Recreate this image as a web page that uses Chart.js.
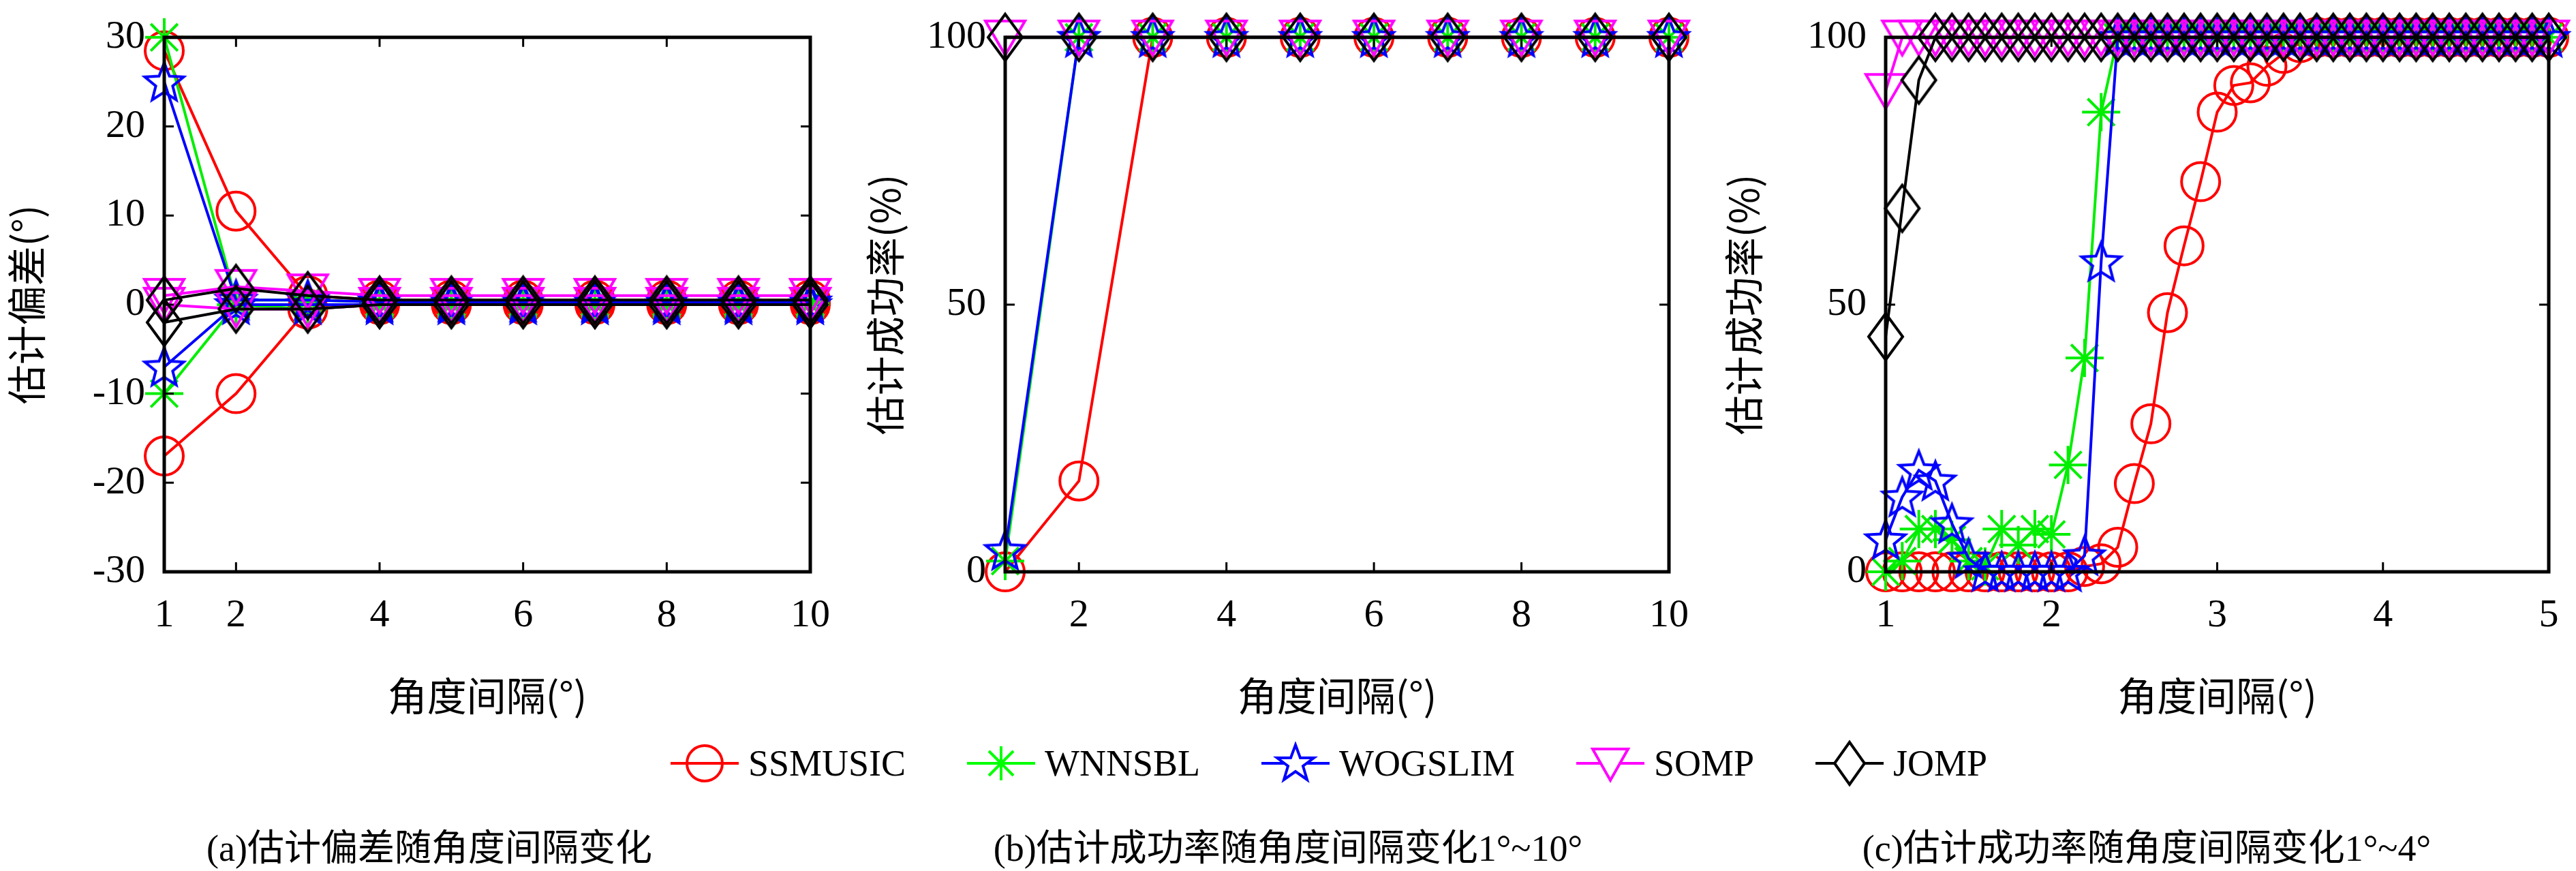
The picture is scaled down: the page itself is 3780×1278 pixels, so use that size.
<!DOCTYPE html>
<html>
<head>
<meta charset="utf-8">
<script src="https://cdn.jsdelivr.net/npm/chart.js@4.4.0/dist/chart.umd.min.js"></script>
<style>
  body { margin: 0; background: #fff; width: 3780px; height: 1278px; position: relative; overflow: hidden; }
  .box { position: absolute; top: 0; height: 1060px; }
  .legend { position: absolute; top: 1085px; left: 0; width: 3780px; display: flex; justify-content: center; gap: 90px;
            font-family: 'Liberation Serif', 'DejaVu Serif', serif; font-size: 54px; align-items: center; padding-left: 60px; }
  .legend span { display: flex; align-items: center; gap: 14px; }
  .cap { position: absolute; top: 1200px; font-family: 'Liberation Serif', 'Noto Sans CJK SC', serif; font-size: 54px; text-align: center; width: 1260px; }
</style>
</head>
<body>
<div class="box" style="left:0;width:1240px"><canvas id="chartA"></canvas></div>
<div class="box" style="left:1260px;width:1240px"><canvas id="chartB"></canvas></div>
<div class="box" style="left:2520px;width:1260px"><canvas id="chartC"></canvas></div>

<div class="legend">
  <span><svg width="100" height="70"><line x1="0" y1="35" x2="100" y2="35" stroke="#f00" stroke-width="4"/><circle cx="50" cy="35" r="26" fill="none" stroke="#f00" stroke-width="4"/></svg>SSMUSIC</span>
  <span><svg width="100" height="70"><line x1="0" y1="35" x2="100" y2="35" stroke="#0f0" stroke-width="4"/><g stroke="#0f0" stroke-width="4"><line x1="50" y1="10" x2="50" y2="60"/><line x1="25" y1="35" x2="75" y2="35"/><line x1="32" y1="17" x2="68" y2="53"/><line x1="68" y1="17" x2="32" y2="53"/></g></svg>WNNSBL</span>
  <span><svg width="100" height="70"><line x1="0" y1="35" x2="100" y2="35" stroke="#00f" stroke-width="4"/><polygon points="50,8 57,27 77,27 61,39 67,59 50,47 33,59 39,39 23,27 43,27" fill="#fff" stroke="#00f" stroke-width="4"/></svg>WOGSLIM</span>
  <span><svg width="100" height="70"><line x1="0" y1="35" x2="100" y2="35" stroke="#f0f" stroke-width="4"/><polygon points="24,14 76,14 50,60" fill="#fff" stroke="#f0f" stroke-width="4"/></svg>SOMP</span>
  <span><svg width="100" height="70"><line x1="0" y1="35" x2="100" y2="35" stroke="#000" stroke-width="4"/><polygon points="50,4 72,35 50,66 28,35" fill="#fff" stroke="#000" stroke-width="4"/></svg>JOMP</span>
</div>

<div class="cap" style="left:0">(a)估计偏差随角度间隔变化</div>
<div class="cap" style="left:1260px">(b)估计成功率随角度间隔变化1°~10°</div>
<div class="cap" style="left:2520px">(c)估计成功率随角度间隔变化1°~4°</div>

<script>
const names = ['SSMUSIC', 'WNNSBL', 'WOGSLIM', 'SOMP', 'JOMP'];
const lineColors = ['#ff0000', '#00ee00', '#0000ff', '#ff00ff', '#000000'];

// (a) bias vs angle spacing, upper and lower branch per method
const xA = [1, 2, 3, 4, 5, 6, 7, 8, 9, 10];
const xTicksA = [1, 2, 4, 6, 8, 10];
const ssmusicUp = [28.5, 10.5, 1, 0.5, 0.5, 0.5, 0.5, 0.5, 0.5, 0.5];
const ssmusicLow = [-17, -10, -0.5, 0, 0, 0, 0, 0, 0, 0];
const wnnsblUp = [30, 0.5, 0.5, 0.3, 0.3, 0.3, 0.3, 0.3, 0.3, 0.3];
const wnnsblLow = [-10, 0, -0.5, 0, 0, 0, 0, 0, 0, 0];
const wogslimUp = [25, 0.5, 0.5, 0.3, 0.3, 0.3, 0.3, 0.3, 0.3, 0.3];
const wogslimLow = [-7, 0, 0, 0, 0, 0, 0, 0, 0, 0];
const sompUp = [1, 2, 1.5, 1, 1, 1, 1, 1, 1, 1];
const sompLow = [0, -0.5, -0.5, 0, 0, 0, 0, 0, 0, 0];
const jompUp = [0.5, 1.8, 1, 0.5, 0.5, 0.5, 0.5, 0.5, 0.5, 0.5];
const jompLow = [-2, -0.5, -0.5, 0, 0, 0, 0, 0, 0, 0];

// (b) success rate 1..10
const xB = [1, 2, 3, 4, 5, 6, 7, 8, 9, 10];
const xTicksB = [2, 4, 6, 8, 10];
const ssmusicB = [0, 17, 100, 100, 100, 100, 100, 100, 100, 100];
const wnnsblB = [2, 100, 100, 100, 100, 100, 100, 100, 100, 100];
const wogslimB = [4, 100, 100, 100, 100, 100, 100, 100, 100, 100];
const sompB = [100, 100, 100, 100, 100, 100, 100, 100, 100, 100];
const jompB = [100, 100, 100, 100, 100, 100, 100, 100, 100, 100];

// (c) success rate 1..5, step 0.1
const xC = [1.0, 1.1, 1.2, 1.3, 1.4, 1.5, 1.6, 1.7, 1.8, 1.9, 2.0, 2.1, 2.2, 2.3, 2.4, 2.5, 2.6, 2.7, 2.8, 2.9, 3.0,
            3.1, 3.2, 3.3, 3.4, 3.5, 3.6, 3.7, 3.8, 3.9, 4.0, 4.1, 4.2, 4.3, 4.4, 4.5, 4.6, 4.7, 4.8, 4.9, 5.0];
const ssmusicC = [0, 0, 0, 0, 0, 0, 0, 0, 0, 0, 0, 0, 1, 1.5, 4.6, 16.5, 27.7, 48.5, 61, 73, 86,
                  91, 91.5, 94.6, 97, 99, 100, 100, 100, 100, 100, 100, 100, 100, 100, 100, 100, 100, 100, 100, 100];
const wnnsblC = [0, 2, 8, 8, 6, 2, 1, 8, 5, 8, 7, 20, 40, 86, 100, 100, 100, 100, 100, 100, 100,
                 100, 100, 100, 100, 100, 100, 100, 100, 100, 100, 100, 100, 100, 100, 100, 100, 100, 100, 100, 100];
const wogslimC = [6, 14, 19, 17, 9, 2.5, 0, 0, 0, 0, 0, 0, 3, 58, 100, 100, 100, 100, 100, 100, 100,
                  100, 100, 100, 100, 100, 100, 100, 100, 100, 100, 100, 100, 100, 100, 100, 100, 100, 100, 100, 100];
const sompC = [90, 100, 100, 100, 100, 100, 100, 100, 100, 100, 100, 100, 100, 100, 100, 100, 100, 100, 100, 100, 100,
               100, 100, 100, 100, 100, 100, 100, 100, 100, 100, 100, 100, 100, 100, 100, 100, 100, 100, 100, 100];
const jompC = [44, 68, 92, 100, 100, 100, 100, 100, 100, 100, 100, 100, 100, 100, 100, 100, 100, 100, 100, 100, 100,
               100, 100, 100, 100, 100, 100, 100, 100, 100, 100, 100, 100, 100, 100, 100, 100, 100, 100, 100, 100];

// marker images
function makeMarker(kind, color) {
    const c = document.createElement('canvas');
    c.width = 70; c.height = 76;
    const g = c.getContext('2d');
    g.strokeStyle = color; g.lineWidth = 4;
    g.beginPath();
    if (kind === 'pent') {
        for (let i = 0; i < 10; i++) {
            const r = i % 2 ? 13 : 30;
            const a = -Math.PI / 2 + i * Math.PI / 5;
            const px = 35 + r * Math.cos(a), py = 40 + r * Math.sin(a);
            i ? g.lineTo(px, py) : g.moveTo(px, py);
        }
    } else if (kind === 'dia') {
        g.moveTo(35, 4); g.lineTo(60, 38); g.lineTo(35, 72); g.lineTo(10, 38);
    } else if (kind === 'tri') {
        g.moveTo(6, 14); g.lineTo(64, 14); g.lineTo(35, 64);
    }
    g.closePath();
    g.stroke();
    return c;
}
const pointStyles = ['circle', 'star', makeMarker('pent', '#0000ff'), makeMarker('tri', '#ff00ff'), makeMarker('dia', '#000000')];
const radii = [28, 28, 30, 30, 30];

function ds(i, xs, ys) {
    return {
        label: names[i],
        data: xs.map((x, k) => ({ x: x, y: ys[k] })),
        borderColor: lineColors[i],
        backgroundColor: 'rgba(0,0,0,0)',
        borderWidth: 4,
        pointStyle: pointStyles[i],
        pointRadius: radii[i],
        pointBorderWidth: 4,
        pointBorderColor: lineColors[i],
        pointBackgroundColor: 'rgba(0,0,0,0)',
        order: 5 - i,
        clip: false,
        tension: 0
    };
}

// frame + inward ticks on all four sides
const framePlugin = {
    id: 'frame',
    afterDatasetsDraw(chart) {
        const { ctx, chartArea: a, scales } = chart;
        ctx.save();
        ctx.strokeStyle = '#000';
        ctx.lineWidth = 5;
        ctx.strokeRect(a.left, a.top, a.right - a.left, a.bottom - a.top);
        ctx.lineWidth = 3;
        ctx.beginPath();
        scales.x.ticks.forEach(t => {
            const px = scales.x.getPixelForValue(t.value);
            ctx.moveTo(px, a.bottom); ctx.lineTo(px, a.bottom - 14);
            ctx.moveTo(px, a.top); ctx.lineTo(px, a.top + 14);
        });
        scales.y.ticks.forEach(t => {
            const py = scales.y.getPixelForValue(t.value);
            ctx.moveTo(a.left, py); ctx.lineTo(a.left + 14, py);
            ctx.moveTo(a.right, py); ctx.lineTo(a.right - 14, py);
        });
        ctx.stroke();
        ctx.restore();
    }
};

const tickFont = { family: "'Liberation Serif', 'DejaVu Serif', serif", size: 58 };
const titleFont = { family: "'Noto Sans CJK SC', 'Liberation Serif', serif", size: 58 };

function makeChart(id, datasets, xOpt, yOpt, yWidth, rightPad, yTitle) {
    new Chart(document.getElementById(id), {
        type: 'line',
        data: { datasets: datasets },
        options: {
            responsive: true,
            maintainAspectRatio: false,
            animation: false,
            layout: { padding: { top: 36, right: rightPad, left: 0, bottom: 0 } },
            plugins: { legend: { display: false }, tooltip: { enabled: false } },
            scales: {
                x: Object.assign({
                    type: 'linear',
                    grid: { display: false },
                    border: { display: false },
                    ticks: { font: tickFont, color: '#000', padding: 22, maxRotation: 0 },
                    title: { display: true, text: '角度间隔(°)', font: titleFont, color: '#000', padding: { top: 0 } },
                    afterFit: s => { s.height = 221; }
                }, xOpt),
                y: Object.assign({
                    grid: { display: false },
                    border: { display: false },
                    ticks: { font: tickFont, color: '#000', padding: 20 },
                    title: { display: true, text: yTitle, font: titleFont, color: '#000', padding: { bottom: 10 } },
                    afterFit: s => { s.width = yWidth; }
                }, yOpt)
            }
        },
        plugins: [framePlugin]
    });
}

function fixedTicks(list) {
    return s => { s.ticks = list.map(v => ({ value: v })); };
}

makeChart('chartA', [
    ds(0, xA, ssmusicUp), ds(0, xA, ssmusicLow),
    ds(1, xA, wnnsblUp), ds(1, xA, wnnsblLow),
    ds(2, xA, wogslimUp), ds(2, xA, wogslimLow),
    ds(3, xA, sompUp), ds(3, xA, sompLow),
    ds(4, xA, jompUp), ds(4, xA, jompLow)
], { min: 1, max: 10, afterBuildTicks: fixedTicks(xTicksA) },
   { min: -30, max: 30, ticks: { font: tickFont, color: '#000', padding: 20, stepSize: 10 } },
   241, 35, '估计偏差(°)');

makeChart('chartB', [
    ds(0, xB, ssmusicB), ds(1, xB, wnnsblB), ds(2, xB, wogslimB), ds(3, xB, sompB), ds(4, xB, jompB)
], { min: 1, max: 10, afterBuildTicks: fixedTicks(xTicksB) },
   { min: 0, max: 100, ticks: { font: tickFont, color: '#000', padding: 20, stepSize: 50 } },
   215, 30, '估计成功率(%)');

makeChart('chartC', [
    ds(0, xC, ssmusicC), ds(1, xC, wnnsblC), ds(2, xC, wogslimC), ds(3, xC, sompC), ds(4, xC, jompC)
], { min: 1, max: 5, ticks: { font: tickFont, color: '#000', padding: 22, stepSize: 1, maxRotation: 0 } },
   { min: 0, max: 100, ticks: { font: tickFont, color: '#000', padding: 20, stepSize: 50 } },
   247, 40, '估计成功率(%)');
</script>
</body>
</html>
